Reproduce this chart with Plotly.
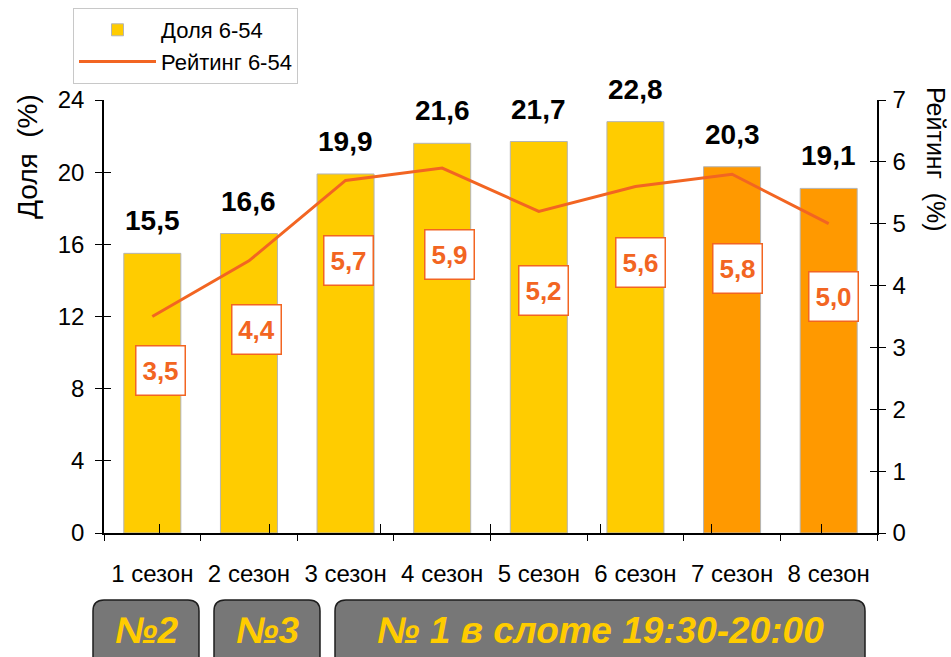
import plotly.graph_objects as go

seasons = ["1 сезон", "2 сезон", "3 сезон", "4 сезон", "5 сезон", "6 сезон", "7 сезон", "8 сезон"]
share = [15.5, 16.6, 19.9, 21.6, 21.7, 22.8, 20.3, 19.1]
rating = [3.5, 4.4, 5.7, 5.9, 5.2, 5.6, 5.8, 5.0]
bar_colors = ["#FFCC00"] * 6 + ["#FF9900"] * 2
badges = ["№2", "№3", "№ 1 в слоте 19:30-20:00"]

W, H = 951, 657
L, R, T, B = 104, 74, 100, 124
PW, PH = W - L - R, H - T - B
FONT = "Liberation Sans, Arial, sans-serif"
ORANGE = "#F26522"

# label box offsets (pixels), placed by hand like on the original slide
lbl_dx = [8, 8, 3, 7, 5, 5, 5, 5]
lbl_dy = [-54, -69, -80, -86, -79, -76, -94, -73]


def px(x):
    return (x - L) / PW


def py(y):
    return (H - B - y) / PH


def rounded(x0, y0, x1, y1, r=11):
    # rounded rect in pixel coords -> paper path
    pts = [
        f"M {px(x0 + r)} {py(y0)}",
        f"L {px(x1 - r)} {py(y0)}",
        f"Q {px(x1)} {py(y0)} {px(x1)} {py(y0 + r)}",
        f"L {px(x1)} {py(y1 - r)}",
        f"Q {px(x1)} {py(y1)} {px(x1 - r)} {py(y1)}",
        f"L {px(x0 + r)} {py(y1)}",
        f"Q {px(x0)} {py(y1)} {px(x0)} {py(y1 - r)}",
        f"L {px(x0)} {py(y0 + r)}",
        f"Q {px(x0)} {py(y0)} {px(x0 + r)} {py(y0)}",
        "Z",
    ]
    return " ".join(pts)


fig = go.Figure()
fig.add_trace(go.Bar(
    x=seasons, y=share, name="Доля 6-54",
    marker=dict(color=bar_colors, line=dict(color="#B4B4B4", width=1)),
    width=0.59,
))
fig.add_trace(go.Scatter(
    x=seasons, y=rating, name="Рейтинг 6-54", yaxis="y2",
    mode="lines", line=dict(color=ORANGE, width=3),
))
# empty helpers so the inner half of the crossing tick marks gets drawn
for ya in ["y3", "y4"]:
    fig.add_trace(go.Scatter(x=seasons, y=[None] * len(seasons), xaxis="x2", yaxis=ya,
                             showlegend=False, hoverinfo="skip", mode="lines"))

anns = []
for s, v in zip(seasons, share):
    anns.append(dict(
        x=s, y=v, xref="x", yref="y", text=f"<b>{v:.1f}</b>".replace(".", ","),
        showarrow=False, yanchor="bottom", yshift=15,
        font=dict(size=28, color="black", family=FONT),
    ))
for i, (s, v) in enumerate(zip(seasons, rating)):
    anns.append(dict(
        x=s, y=v, xref="x", yref="y2", text=f"<b>{v:.1f}</b>".replace(".", ","),
        showarrow=False, xshift=lbl_dx[i], yshift=lbl_dy[i],
        width=38, height=38,
        font=dict(size=26, color=ORANGE, family=FONT),
        bgcolor="white", bordercolor=ORANGE, borderwidth=1.5, borderpad=5,
    ))

anns.append(dict(x=px(27), y=py(157), xref="paper", yref="paper", text="Доля\u00a0\u00a0(%)",
                 xanchor="center", yanchor="middle",
                 textangle=-90, showarrow=False, font=dict(size=28, color="black", family=FONT)))
anns.append(dict(x=px(936), y=py(160), xref="paper", yref="paper", text="Рейтинг\u00a0\u00a0(%)",
                 xanchor="center", yanchor="middle",
                 textangle=90, showarrow=False, font=dict(size=25, color="black", family=FONT)))

boxes = [(93, 600, 199, 672), (214, 600, 320, 672), (335, 600, 865, 672)]
shapes = []
for (x0, y0, x1, y1), t in zip(boxes, badges):
    shapes.append(dict(type="path", path=rounded(x0, y0, x1, y1), xref="paper", yref="paper",
                       fillcolor="#777777", line=dict(color="#1E1E1E", width=1.5), layer="above"))
    anns.append(dict(x=px((x0 + x1) / 2), y=py(630), xref="paper", yref="paper",
                     xanchor="center", yanchor="middle",
                     text=f"<i><b>{t}</b></i>", showarrow=False,
                     font=dict(size=37, color="#FFCC00", family=FONT)))

axis_style = dict(showline=True, linecolor="black", linewidth=1.5, tickcolor="black",
                  showgrid=False, zeroline=False, tickfont=dict(size=24))

fig.update_layout(
    width=W, height=H,
    margin=dict(l=L, r=R, t=T, b=B, autoexpand=False),
    plot_bgcolor="white", paper_bgcolor="white",
    font=dict(family=FONT, size=24, color="black"),
    separators=", ",
    bargap=0.41,
    showlegend=True,
    legend=dict(x=px(73), y=py(8), xanchor="left", yanchor="top",
                bordercolor="#C8C8C8", borderwidth=1, bgcolor="white",
                font=dict(size=22), tracegroupgap=0, itemwidth=77),
    xaxis=dict(**axis_style, ticks="outside", tickson="boundaries", ticklen=6,
               ticklabelstandoff=18),
    xaxis2=dict(overlaying="x", ticks="inside", tickson="boundaries", ticklen=9,
                tickcolor="black", tickwidth=1, showticklabels=False, showline=False,
                showgrid=False, zeroline=False, categoryorder="array", categoryarray=seasons,
                anchor="y3"),
    yaxis=dict(**axis_style, range=[0, 24], dtick=4, ticks="outside", ticklen=7,
               ticklabelstandoff=6),
    yaxis2=dict(**axis_style, range=[0, 7], dtick=1, overlaying="y", side="right",
                ticks="outside", ticklen=7, ticklabelstandoff=2),
    yaxis3=dict(range=[0, 24], dtick=4, overlaying="y", side="left", ticks="inside",
                ticklen=7, tickcolor="black", showticklabels=False, showline=False,
                showgrid=False, zeroline=False),
    yaxis4=dict(range=[0, 7], dtick=1, overlaying="y", side="right", ticks="inside",
                ticklen=7, tickcolor="black", showticklabels=False, showline=False,
                showgrid=False, zeroline=False),
    annotations=anns,
    shapes=shapes,
)

fig.write_html("out.html", config={"displayModeBar": False},
               post_script="document.body.style.margin = '0px';")
